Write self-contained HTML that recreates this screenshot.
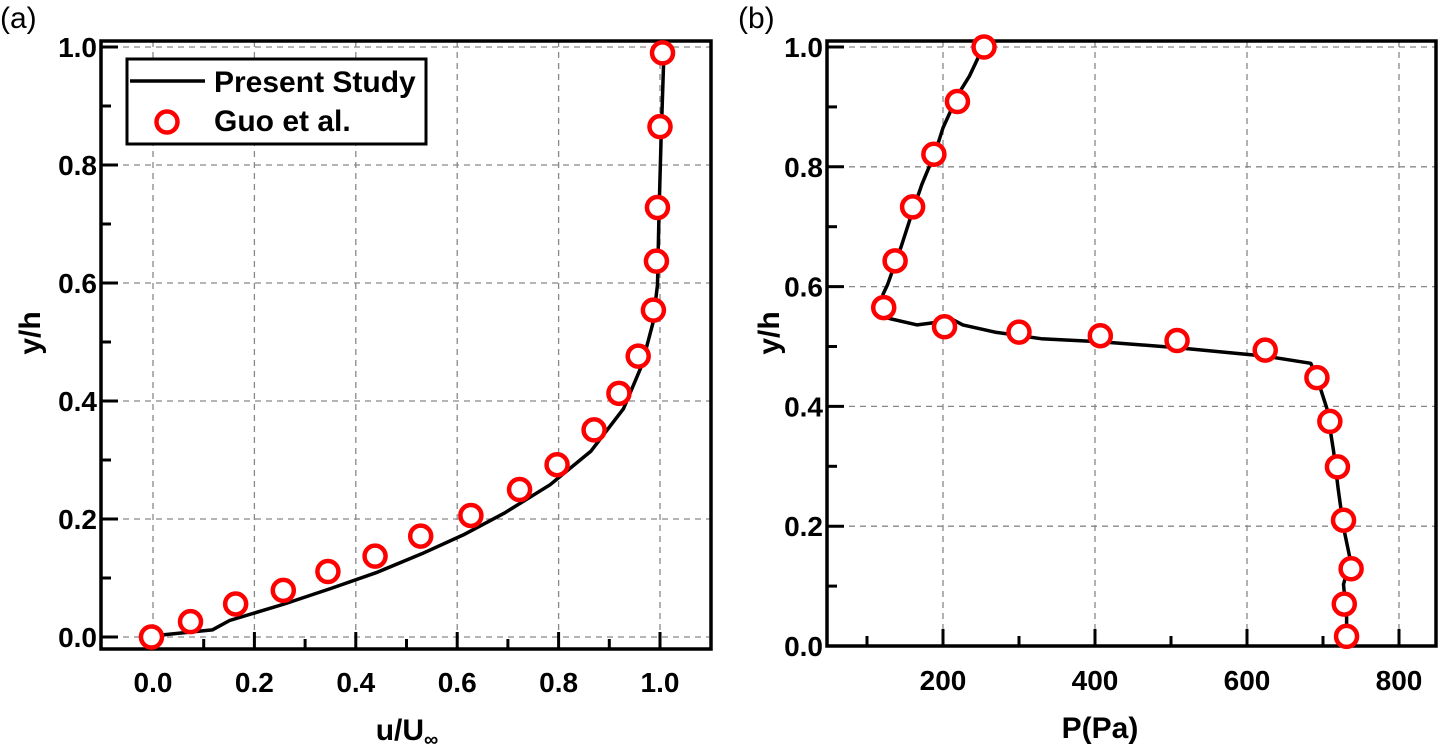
<!DOCTYPE html>
<html><head><meta charset="utf-8"><style>
html,body{margin:0;padding:0;background:#fff;}
svg{display:block;font-family:"Liberation Sans",Arial,sans-serif;}
.tick{font-size:28px;font-weight:bold;fill:#000;}
.title{font-size:30px;font-weight:bold;fill:#000;}
</style></head><body>
<svg id="chart" width="1440" height="746" viewBox="0 0 1440 746"></svg>
<script>
// Panel (a) data
const aLineX=[0,0.024,0.117,0.151,0.259,0.35,0.44,0.53,0.612,0.693,0.783,0.864,0.928,0.964,0.986,0.995,0.998,1.002,1.007,1.009];
const aLineY=[0,0.004,0.012,0.028,0.056,0.082,0.109,0.141,0.173,0.21,0.258,0.315,0.387,0.46,0.532,0.597,0.718,0.839,0.968,1.0];
const aPtsX=[-0.003,0.074,0.163,0.257,0.345,0.438,0.528,0.627,0.723,0.797,0.870,0.919,0.957,0.987,0.993,0.995,1.0,1.005];
const aPtsY=[0,0.026,0.056,0.079,0.111,0.137,0.171,0.206,0.25,0.292,0.351,0.413,0.476,0.554,0.637,0.728,0.865,0.99];
const aXTicks=["0.0","0.2","0.4","0.6","0.8","1.0"];
const yTicks=["0.0","0.2","0.4","0.6","0.8","1.0"];
// Panel (b) data
const bLineX=[254,244,235,220,200,190,172,157,145,127,121,125,166,190,208,226,268,329,407,509,624,684,693,705,714,720,727,736,727,731,731];
const bLineY=[1.004,0.976,0.952,0.921,0.865,0.825,0.77,0.714,0.667,0.603,0.587,0.548,0.536,0.54,0.548,0.536,0.524,0.513,0.508,0.498,0.484,0.472,0.444,0.397,0.325,0.262,0.198,0.143,0.103,0.048,0.012];
const bPtsX=[254,219,188,160,137,122,202,300,407,508,624,692,709,719,727,737,728,731];
const bPtsY=[1.0,0.909,0.821,0.733,0.643,0.565,0.533,0.524,0.518,0.510,0.494,0.448,0.375,0.299,0.210,0.129,0.070,0.016];
const bXTicks=["200","400","600","800"];

const NS="http://www.w3.org/2000/svg";
const svg=document.getElementById('chart');
function mk(tag,attrs,parent){const e=document.createElementNS(NS,tag);for(const k in attrs)e.setAttribute(k,attrs[k]);(parent||svg).appendChild(e);return e;}

function panel(cfg){
  const g=mk('g',{});
  
  
  const X=v=>cfg.px0+(v-cfg.x0)*cfg.sx;
  const Y=v=>cfg.py0-v*cfg.sy;
  cfg.xTicks.forEach(t=>{const v=parseFloat(t);const l=mk('line',{x1:X(v),x2:X(v),y1:cfg.top,y2:cfg.bottom,stroke:'#888','stroke-width':1.3,'stroke-dasharray':'6,5'},g);
    });
  yTicks.forEach(t=>{const v=parseFloat(t);const l=mk('line',{x1:cfg.left,x2:cfg.right,y1:Y(v),y2:Y(v),stroke:'#888','stroke-width':1.3,'stroke-dasharray':'6,5'},g);
    });
  cfg.xTicks.forEach(t=>{const v=parseFloat(t);
    const l=mk('line',{x1:X(v),x2:X(v),y1:cfg.bottom,y2:cfg.bottom-17,stroke:'#000','stroke-width':3},g);
    
    const tx=mk('text',{x:X(v),y:cfg.xLabelY,'text-anchor':'middle',class:'tick'},g);tx.textContent=t;
    });
  cfg.xMinor.forEach(v=>{const l=mk('line',{x1:X(v),x2:X(v),y1:cfg.bottom,y2:cfg.bottom-10,stroke:'#000','stroke-width':3},g);
    });
  yTicks.forEach(t=>{const v=parseFloat(t);
    const l=mk('line',{x1:cfg.left,x2:cfg.left+17,y1:Y(v),y2:Y(v),stroke:'#000','stroke-width':3},g);
    
    const tx=mk('text',{x:cfg.left-4,y:Y(v)+10,'text-anchor':'end',class:'tick'},g);tx.textContent=t;
    });
  [0.1,0.3,0.5,0.7,0.9].forEach(v=>{const l=mk('line',{x1:cfg.left,x2:cfg.left+10,y1:Y(v),y2:Y(v),stroke:'#000','stroke-width':3},g);
    });
  const f=mk('rect',{x:cfg.left,y:cfg.top,width:cfg.right-cfg.left,height:cfg.bottom-cfg.top,fill:'none',stroke:'#000','stroke-width':3.5},g);
  
  const d=cfg.lx.map((v,i)=>(i?'L':'M')+X(v).toFixed(1)+','+Y(cfg.ly[i]).toFixed(1)).join(' ');
  const p=mk('path',{d:d,fill:'none',stroke:'#000','stroke-width':3.5,'stroke-linejoin':'round'},g);
  
  cfg.qx.forEach((v,i)=>{const c=mk('circle',{cx:X(v),cy:Y(cfg.qy[i]),r:10.5,fill:'#fff',stroke:'#f00','stroke-width':4.5},g);
    });
  const yt=mk('text',{x:0,y:0,transform:`translate(${cfg.yTitleX},${cfg.yTitleY}) rotate(-90)`,'text-anchor':'middle',class:'title'},g);
  yt.textContent='y/h';
  return {g,X,Y};
}

panel({name:'panel-a',left:101,right:711,top:41,bottom:649,px0:153,x0:0,sx:507,py0:637,sy:590,
  xTicks:aXTicks,xMinor:[0.1,0.3,0.5,0.7,0.9],xLabelY:692,lx:aLineX,ly:aLineY,qx:aPtsX,qy:aPtsY,yTitleX:40,yTitleY:333});
panel({name:'panel-b',left:827,right:1436,top:41,bottom:646,px0:943,x0:200,sx:0.76,py0:646,sy:599,
  xTicks:bXTicks,xMinor:[100,300,500,700],xLabelY:690,lx:bLineX,ly:bLineY,qx:bPtsX,qy:bPtsY,yTitleX:779,yTitleY:333});

let t=mk('text',{x:407,y:740,'text-anchor':'middle',class:'title'});

t.innerHTML='u/U<tspan font-size="20" dy="6">∞</tspan>';
t=mk('text',{x:1100,y:738,'text-anchor':'middle',class:'title'});

t.textContent='P(Pa)';
t=mk('text',{x:0,y:28,'font-size':30,fill:'#000'});t.textContent='(a)';

t=mk('text',{x:738,y:28,'font-size':30,fill:'#000'});t.textContent='(b)';

const lg=mk('g',{});

let r=mk('rect',{x:127,y:59,width:299,height:85,fill:'#fff',stroke:'#000','stroke-width':3},lg);

let l=mk('line',{x1:130,x2:205,y1:81,y2:81,stroke:'#000','stroke-width':3.5},lg);

t=mk('text',{x:214,y:92,class:'title','font-size':29},lg);t.textContent='Present Study';

let c=mk('circle',{cx:167,cy:122,r:10.5,fill:'#fff',stroke:'#f00','stroke-width':4.5},lg);

t=mk('text',{x:214,y:131,class:'title','font-size':29},lg);t.textContent='Guo et al.';

</script>
</body></html>
